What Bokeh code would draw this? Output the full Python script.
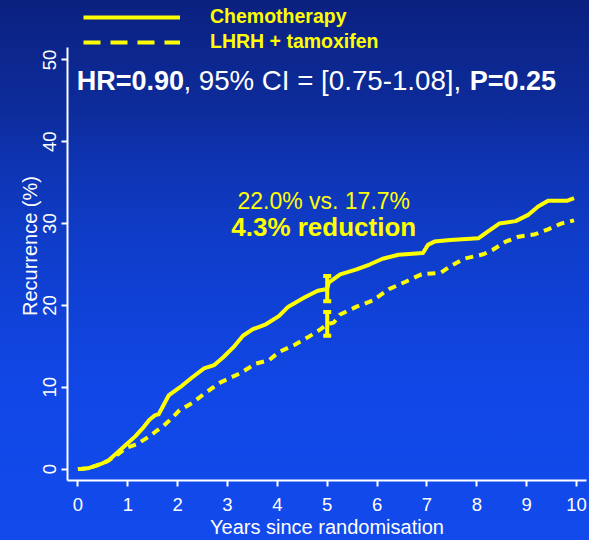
from bokeh.plotting import figure
from bokeh.models import Range1d, FixedTicker, Legend, LegendItem, Whisker, TeeHead, ColumnDataSource, Label
from bokeh.embed import file_html
from bokeh.resources import INLINE

# ---------------- data ----------------
series_names = ["Chemotherapy", "LHRH + tamoxifen"]

chemo_years = [0.0, 0.2, 0.45, 0.6, 0.77, 0.97, 1.15, 1.3, 1.43, 1.55, 1.62, 1.75, 1.82, 2.0, 2.08,
               2.27, 2.53, 2.73, 2.92, 3.12, 3.31, 3.51, 3.77, 4.03, 4.22, 4.55, 4.81, 5.0, 5.03,
               5.26, 5.59, 5.85, 6.11, 6.43, 6.92, 7.02, 7.15, 7.47, 8.03, 8.19, 8.45, 8.78, 9.04,
               9.23, 9.43, 9.82, 9.95]
chemo_pct = [0.0, 0.1, 0.6, 1.0, 1.9, 3.0, 4.0, 5.0, 6.0, 6.6, 6.7, 8.2, 9.0, 9.8, 10.15,
             11.1, 12.3, 12.7, 13.7, 14.9, 16.3, 17.1, 17.7, 18.7, 19.85, 21.0, 21.8, 22.0, 22.8,
             23.8, 24.4, 25.0, 25.7, 26.2, 26.4, 27.4, 27.8, 28.0, 28.2, 28.9, 30.0, 30.3, 31.1,
             32.1, 32.8, 32.8, 33.1]

lhrh_years = [0.0, 0.2, 0.45, 0.6, 0.8, 0.97, 1.17, 1.43, 1.56, 1.72, 1.88, 2.04, 2.3, 2.53, 2.86,
              3.25, 3.57, 3.83, 4.03, 4.35, 4.61, 4.87, 5.0, 5.13, 5.26, 5.59, 5.91, 6.24, 6.57,
              6.89, 7.28, 7.47, 7.74, 8.13, 8.32, 8.58, 8.84, 9.17, 9.43, 9.69, 9.95]
lhrh_pct = [0.0, 0.1, 0.6, 1.0, 1.8, 2.6, 3.0, 4.0, 4.6, 5.3, 6.2, 7.2, 8.1, 9.2, 10.6,
            11.7, 12.9, 13.3, 14.3, 15.2, 16.1, 17.1, 17.7, 17.9, 18.9, 19.85, 20.6, 22.0, 22.9,
            23.8, 24.0, 24.8, 25.7, 26.25, 26.8, 27.8, 28.4, 28.7, 29.3, 30.0, 30.4]

ci_year = [5.0, 5.0]
ci_lower = [20.5, 16.3]
ci_upper = [23.6, 19.2]

x_ticks = [0, 1, 2, 3, 4, 5, 6, 7, 8, 9, 10]
y_ticks = [0, 10, 20, 30, 40, 50]

x_title = "Years since randomisation"
y_title = "Recurrence (%)"
hr_parts = ["HR=0.90", ", 95% CI = [0.75-1.08],", "P=0.25"]
annot_lines = ["22.0% vs. 17.7%", "4.3% reduction"]

# ---------------- figure ----------------
FONT = "Liberation Sans"
YEL = "#ffff00"
NAN = float("nan")

p = figure(width=589, height=540, output_backend="svg", toolbar_location=None,
           x_range=Range1d(-0.209, 10.20), y_range=Range1d(-1.39, 57.26),
           min_border_left=67, min_border_right=3, min_border_top=0, min_border_bottom=60)
p.background_fill_color = None
p.border_fill_color = None
p.outline_line_color = None
p.grid.visible = False
p.styles = {"background": "linear-gradient(to bottom, #0b2180 0%, #0d2c9c 21%, #0e33b0 29%, "
                          "#0f3dca 45%, #1147e6 72%, #124aec 100%)"}

for ax in (p.xaxis[0], p.yaxis[0]):
    ax.axis_line_color = "white"
    ax.axis_line_width = 2
    ax.major_tick_line_color = "white"
    ax.major_tick_line_width = 2
    ax.major_tick_out = 6
    ax.major_tick_in = 0
    ax.minor_tick_line_color = None
    ax.major_label_text_color = "white"
    ax.major_label_text_font = FONT
    ax.major_label_text_font_size = "18.5px"
    ax.axis_label_text_color = "white"
    ax.axis_label_text_font = FONT
    ax.axis_label_text_font_size = "20px"
    ax.axis_label_text_font_style = "normal"
    ax.axis_label_standoff = 0

p.xaxis.ticker = FixedTicker(ticks=x_ticks)
p.yaxis.ticker = FixedTicker(ticks=y_ticks)
p.yaxis.bounds = (-1.39, 51.52)
p.xaxis.major_label_standoff = 11
p.xaxis.axis_label_standoff = 2
p.yaxis.major_label_standoff = 5
p.yaxis.major_label_orientation = "vertical"
p.xaxis.axis_label = x_title
p.yaxis.axis_label = y_title + "\u00a0" * 2

# curves
p.line(chemo_years, chemo_pct, line_color=YEL, line_width=4, line_join="round")
p.line(lhrh_years, lhrh_pct, line_color=YEL, line_width=4, line_dash="8 6")

# confidence bars at 5 years
ci_src = ColumnDataSource(dict(base=ci_year, lower=ci_lower, upper=ci_upper))
p.add_layout(Whisker(source=ci_src, base="base", lower="lower", upper="upper", dimension="height",
                     line_color=YEL, line_width=4,
                     upper_head=TeeHead(size=8, line_color=YEL, line_width=4),
                     lower_head=TeeHead(size=8, line_color=YEL, line_width=4)))

# legend (proxy renderers that only supply the legend glyphs)
leg_solid = p.line([NAN], [NAN], line_color=YEL, line_width=4)
leg_dash = p.line([NAN], [NAN], line_color=YEL, line_width=4, line_dash="17 10")
legend = Legend(items=[LegendItem(label=series_names[0], renderers=[leg_solid]),
                       LegendItem(label=series_names[1], renderers=[leg_dash])],
                location=(16, 427), glyph_width=97, glyph_height=22, label_height=22,
                label_standoff=30, spacing=2, padding=0, margin=0,
                border_line_color=None, background_fill_alpha=0,
                label_text_color=YEL, label_text_font=FONT, label_text_font_style="bold",
                label_text_font_size="19.5px")
p.add_layout(legend, "center")

# HR text
hr_y = 47.46
p.add_layout(Label(x=-0.025, y=hr_y, text=hr_parts[0], text_color="white", text_font=FONT,
                   text_font_style="bold", text_font_size="27px", text_baseline="middle"))
p.add_layout(Label(x=2.115, y=hr_y, text=hr_parts[1], text_color="white", text_font=FONT,
                   text_font_style="normal", text_font_size="27.7px", text_baseline="middle"))
p.add_layout(Label(x=7.857, y=hr_y, text=hr_parts[2], text_color="white", text_font=FONT,
                   text_font_style="bold", text_font_size="27px", text_baseline="middle"))

# annotation
p.add_layout(Label(x=4.93, y=32.78, text=annot_lines[0], text_color=YEL, text_font=FONT,
                   text_font_size="23px", text_align="center", text_baseline="middle"))
p.add_layout(Label(x=4.93, y=29.57, text=annot_lines[1], text_color=YEL, text_font=FONT,
                   text_font_style="bold", text_font_size="26px", text_align="center",
                   text_baseline="middle"))

open("out.html", "w").write(file_html(p, INLINE))
